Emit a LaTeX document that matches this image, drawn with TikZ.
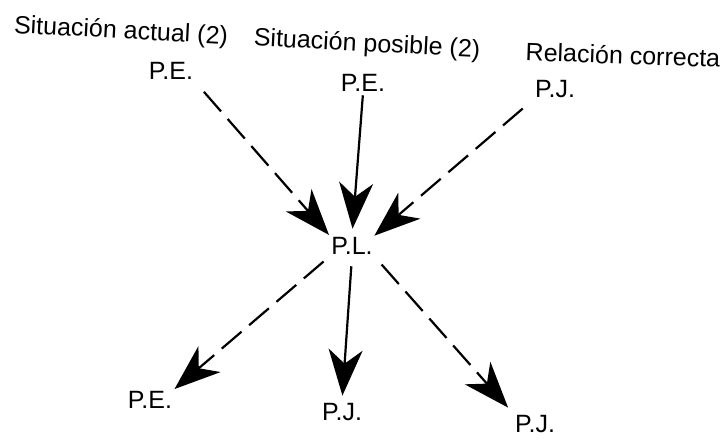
\documentclass[tikz,border=0pt]{standalone}
\usepackage{fontspec}
\setmainfont{Liberation Sans}
\usetikzlibrary{arrows.meta}
\begin{document}
\begin{tikzpicture}[x=1pt,y=-1pt,
  lbl/.style={font=\fontsize{25}{29}\selectfont, inner sep=1.5pt, anchor=center},
  head/.style={lbl, rotate=-3},
  conn/.style={line width=2.2pt, -{Stealth[length=46pt,width=34pt,inset=14pt]}},
  dconn/.style={conn, dash pattern=on 26pt off 10pt}]
\useasboundingbox (0,0) rectangle (725,439);
% header labels
\node[head] (h1) at (121,32) {Situación actual (2)};
\node[head] (h2) at (367,45) {Situación posible (2)};
\node[head, rotate=1] (h3) at (623,55) {Relación correcta};
% nodes
\node[lbl] (pe1) at (171,71) {P.E.};
\node[lbl] (pe2) at (363,83) {P.E.};
\node[lbl] (pj3) at (555,89) {P.J.};
\node[lbl] (pl) at (352,246) {P.L.};
\node[lbl] (peb) at (150,400) {P.E.};
\node[lbl] (pjm) at (342,412) {P.J.};
\node[lbl] (pjr) at (535,424) {P.J.};
% incoming
\draw[dconn, shorten <=14pt, shorten >=1pt] (pe1.south east) -- (pl.north west);
\draw[conn, shorten <=2pt, shorten >=7pt] (pe2.south) -- (pl.north);
\draw[dconn, shorten <=14pt, shorten >=0pt] (pj3.south west) -- (pl.north east);
% outgoing
\draw[dconn, shorten <=8pt, shorten >=1pt] (pl.south west) -- (peb.north east);
\draw[conn, shorten <=10pt, shorten >=6pt] (pl.south) -- (pjm.north);
\draw[dconn, shorten <=11pt, shorten >=8pt] (pl.south east) -- (pjr.north west);
\end{tikzpicture}
\end{document}
